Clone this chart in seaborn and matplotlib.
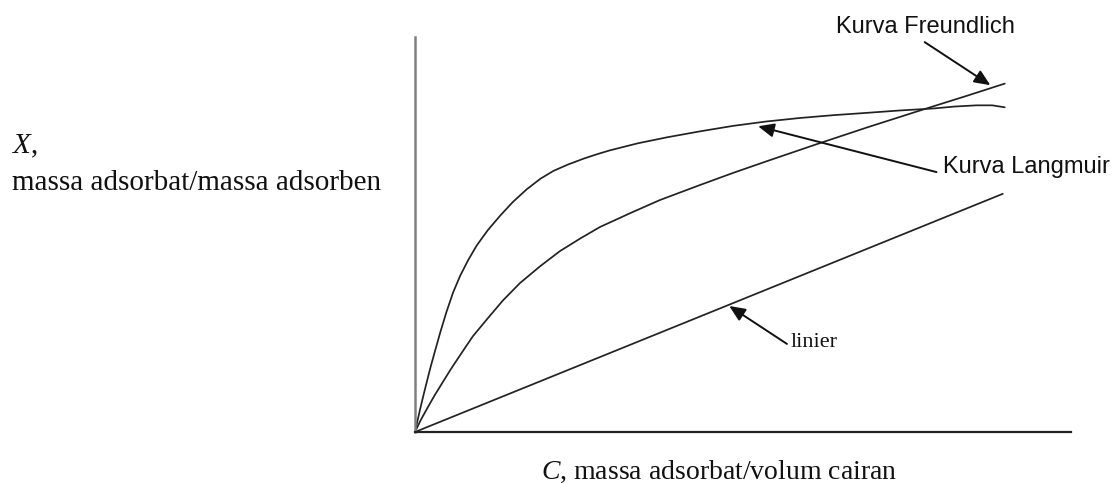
import matplotlib
matplotlib.use('Agg')
import matplotlib.pyplot as plt
import pandas as pd
import seaborn as sns

# Data (C on x, X on y, arbitrary units)
c_langmuir = [0, 0.04, 0.08, 0.12, 0.18, 0.24, 0.30, 0.39, 0.48, 0.58, 0.69,
              0.81, 0.94, 1.11, 1.30, 1.49, 1.70, 1.91, 2.11, 2.33, 2.57,
              2.77, 2.97, 3.40, 3.84, 4.34, 4.85, 5.35, 5.87, 6.37, 6.89,
              7.39, 7.90, 8.23, 8.56, 8.80, 8.99]
x_langmuir = [0, 0.30, 0.59, 0.87, 1.27, 1.66, 2.02, 2.55, 3.04, 3.53, 3.96,
              4.35, 4.72, 5.11, 5.48, 5.82, 6.14, 6.41, 6.61, 6.77, 6.92,
              7.03, 7.13, 7.31, 7.46, 7.61, 7.75, 7.86, 7.95, 8.02, 8.08,
              8.14, 8.19, 8.24, 8.27, 8.27, 8.22]

c_freundlich = [0, 0.09, 0.20, 0.30, 0.43, 0.55, 0.69, 0.88, 1.10, 1.34, 1.60,
                1.91, 2.21, 2.52, 2.82, 3.28, 3.73, 4.34, 4.85, 5.37, 6.13,
                6.89, 7.70, 8.41, 8.99]
x_freundlich = [0, 0.31, 0.64, 0.93, 1.28, 1.60, 1.95, 2.42, 2.86, 3.33, 3.77,
                4.20, 4.58, 4.90, 5.19, 5.54, 5.87, 6.25, 6.56, 6.86, 7.29,
                7.71, 8.14, 8.51, 8.82]

c_linier = [0, 8.96]
x_linier = [0, 6.03]

curve_names = ['Langmuir', 'Freundlich', 'linier']

# Build long table for seaborn
df = pd.concat([
    pd.DataFrame({'C': c_langmuir, 'X': x_langmuir, 'kurva': 'Langmuir'}),
    pd.DataFrame({'C': c_freundlich, 'X': x_freundlich, 'kurva': 'Freundlich'}),
    pd.DataFrame({'C': c_linier, 'X': x_linier, 'kurva': 'linier'}),
], ignore_index=True)

sns.set_theme(style='white')
plt.rcParams['font.family'] = ['Liberation Serif', 'DejaVu Serif']
plt.rcParams['mathtext.fontset'] = 'custom'
plt.rcParams['mathtext.rm'] = 'Liberation Serif'
plt.rcParams['mathtext.it'] = 'Liberation Serif:italic'

W, H = 1113, 485
fig = plt.figure(figsize=(W / 100, H / 100), dpi=100)
fig.patch.set_facecolor('white')

# axes box in pixels: left 415, right 1071, bottom 433, top 38
ax = fig.add_axes([415 / W, (H - 433) / H, (1071 - 415) / W, (433 - 38) / H])
ax.set_facecolor('white')

sns.lineplot(data=df, x='C', y='X', hue='kurva', estimator=None, sort=False,
             palette={k: '#222222' for k in curve_names}, linewidth=1.25,
             legend=False, ax=ax)
for ln in ax.get_lines():
    ln.set_solid_joinstyle('round')

ax.set_xlim(0, 10)
ax.set_ylim(0, 10)
ax.set_xticks([])
ax.set_yticks([])
ax.set_xlabel('')
ax.set_ylabel('')
for side in ['top', 'right']:
    ax.spines[side].set_visible(False)
ax.spines['left'].set_color('#808080')
ax.spines['left'].set_linewidth(1.8)
ax.spines['bottom'].set_color('#222222')
ax.spines['bottom'].set_linewidth(1.6)

arrow_kw = dict(arrowstyle='-|>,head_length=0.8,head_width=0.35',
                color='#111111', lw=1.4, shrinkA=0, shrinkB=0)

# Freundlich arrow + label
ax.annotate('', xy=(8.77, 8.78), xytext=(7.77, 9.87), arrowprops=arrow_kw,
            annotation_clip=False)
ax.text(6.42, 10.28, 'Kurva Freundlich', family='Liberation Sans', fontsize=17,
        va='center', ha='left', color='#111111', clip_on=False)

# Langmuir arrow + label
ax.annotate('', xy=(5.23, 7.74), xytext=(7.95, 6.58), arrowprops=arrow_kw)
ax.text(8.05, 6.74, 'Kurva Langmuir', family='Liberation Sans', fontsize=17,
        va='center', ha='left', color='#111111', clip_on=False)

# linier arrow + label
ax.annotate('', xy=(4.79, 3.19), xytext=(5.67, 2.23), arrowprops=arrow_kw)
ax.text(5.72, 2.28, 'linier', fontsize=16, va='center', ha='left',
        color='#111111')

# axis titles as free text
fig.text(12 / W, 1 - 146 / H, r'$X$,', fontsize=21, va='center', ha='left',
         color='#111111')
fig.text(12 / W, 1 - 183 / H, 'massa adsorbat/massa adsorben', fontsize=21,
         va='center', ha='left', color='#111111')
fig.text(719 / W, 1 - 472 / H, r'$C$, massa adsorbat/volum cairan', fontsize=20,
         va='center', ha='center', color='#111111')

fig.savefig('out.png', dpi=100, facecolor='white')
